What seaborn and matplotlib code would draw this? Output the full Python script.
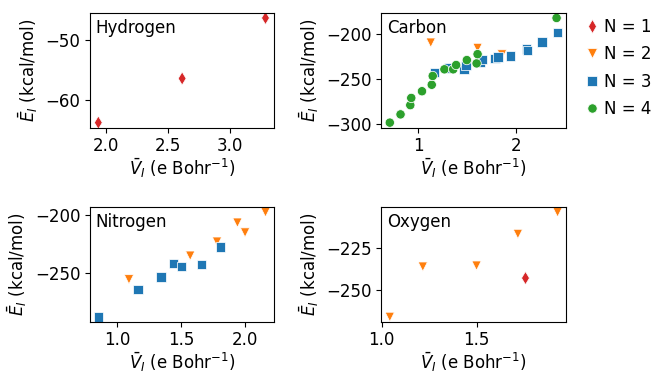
import matplotlib
matplotlib.use("Agg")
import matplotlib.pyplot as plt
from matplotlib.ticker import MultipleLocator
import numpy as np
import pandas as pd
import seaborn as sns

# Hydrogen
h_v = [1.936, 2.614, 3.288]
h_e = [-63.7, -56.4, -46.4]
h_n = [1, 1, 1]

# Carbon
c_v = [1.13, 1.61, 1.86,
       1.17, 1.31, 1.47, 1.49, 1.64, 1.66, 1.79, 1.82, 1.95, 2.11, 2.12, 2.27, 2.43,
       0.71, 0.82, 0.92, 0.93, 1.04, 1.14, 1.15, 1.27, 1.36, 1.39, 1.50, 1.60, 1.61, 2.42]
c_e = [-209.9, -215.8, -223.0,
       -243.0, -238.0, -240.0, -235.5, -231.5, -229.0, -227.5, -226.0, -224.6, -217.0, -219.0, -209.0, -198.2,
       -299.0, -289.8, -279.5, -271.5, -264.0, -256.8, -247.0, -239.6, -239.6, -234.8, -229.3, -233.0, -222.7, -182.4]
c_n = [2, 2, 2,
       3, 3, 3, 3, 3, 3, 3, 3, 3, 3, 3, 3, 3,
       4, 4, 4, 4, 4, 4, 4, 4, 4, 4, 4, 4, 4, 4]

# Nitrogen
n_v = [1.09, 1.57, 1.78, 1.94, 2.00, 2.16,
       0.85, 1.16, 1.34, 1.44, 1.50, 1.66, 1.81]
n_e = [-255.7, -235.3, -223.2, -206.8, -215.3, -197.8,
       -288.1, -264.2, -253.7, -242.1, -244.4, -243.0, -227.7]
n_n = [2, 2, 2, 2, 2, 2,
       3, 3, 3, 3, 3, 3, 3]

# Oxygen
o_v = [1.758, 1.043, 1.217, 1.50, 1.718, 1.927]
o_e = [-242.9, -266.3, -236.0, -235.4, -216.3, -203.2]
o_n = [1, 2, 2, 2, 2, 2]

elements = ["Hydrogen", "Carbon", "Nitrogen", "Oxygen"]
levels = ["N = 1", "N = 2", "N = 3", "N = 4"]
palette = dict(zip(levels, ["#d62728", "#ff7f0e", "#1f77b4", "#2ca02c"]))
markers = dict(zip(levels, ["d", "v", "s", "o"]))


def frame(v, e, n):
    return pd.DataFrame({"V": v, "E": e, "N": [f"N = {k}" for k in n]})


data = {
    "Hydrogen": frame(h_v, h_e, h_n),
    "Carbon": frame(c_v, c_e, c_n),
    "Nitrogen": frame(n_v, n_e, n_n),
    "Oxygen": frame(o_v, o_e, o_n),
}

ticks = {
    "Hydrogen": (0.5, 10),
    "Carbon": (1, 50),
    "Nitrogen": (0.5, 50),
    "Oxygen": (0.5, 25),
}

plt.rcParams["font.size"] = 12
fig = plt.figure(figsize=(6.52, 3.75), dpi=100)
boxes = {
    "Hydrogen": [0.138, 0.659, 0.282, 0.307],
    "Carbon": [0.585, 0.659, 0.283, 0.307],
    "Nitrogen": [0.138, 0.141, 0.282, 0.307],
    "Oxygen": [0.585, 0.141, 0.283, 0.307],
}

for name in elements:
    ax = fig.add_axes(boxes[name])
    show_legend = name == "Carbon"
    sns.scatterplot(data=data[name], x="V", y="E", hue="N", style="N",
                    hue_order=levels, style_order=levels,
                    palette=palette, markers=markers, s=45,
                    legend="full" if show_legend else False, ax=ax)
    ax.xaxis.set_major_locator(MultipleLocator(ticks[name][0]))
    ax.yaxis.set_major_locator(MultipleLocator(ticks[name][1]))
    ax.tick_params(axis="x", pad=3)
    ax.set_xlabel(r"$\bar{V}_I$ (e Bohr$^{-1}$)", labelpad=1)
    ax.set_ylabel(r"$\bar{E}_I$ (kcal/mol)")
    ax.text(0.03, 0.95, name, transform=ax.transAxes, ha="left", va="top")
    if show_legend:
        ax.legend(loc="upper left", bbox_to_anchor=(1.062, 1.015),
                  frameon=False, handletextpad=0.2, handlelength=1.0,
                  borderaxespad=0.0, labelspacing=0.57)

fig.savefig("out.png", dpi=100)
